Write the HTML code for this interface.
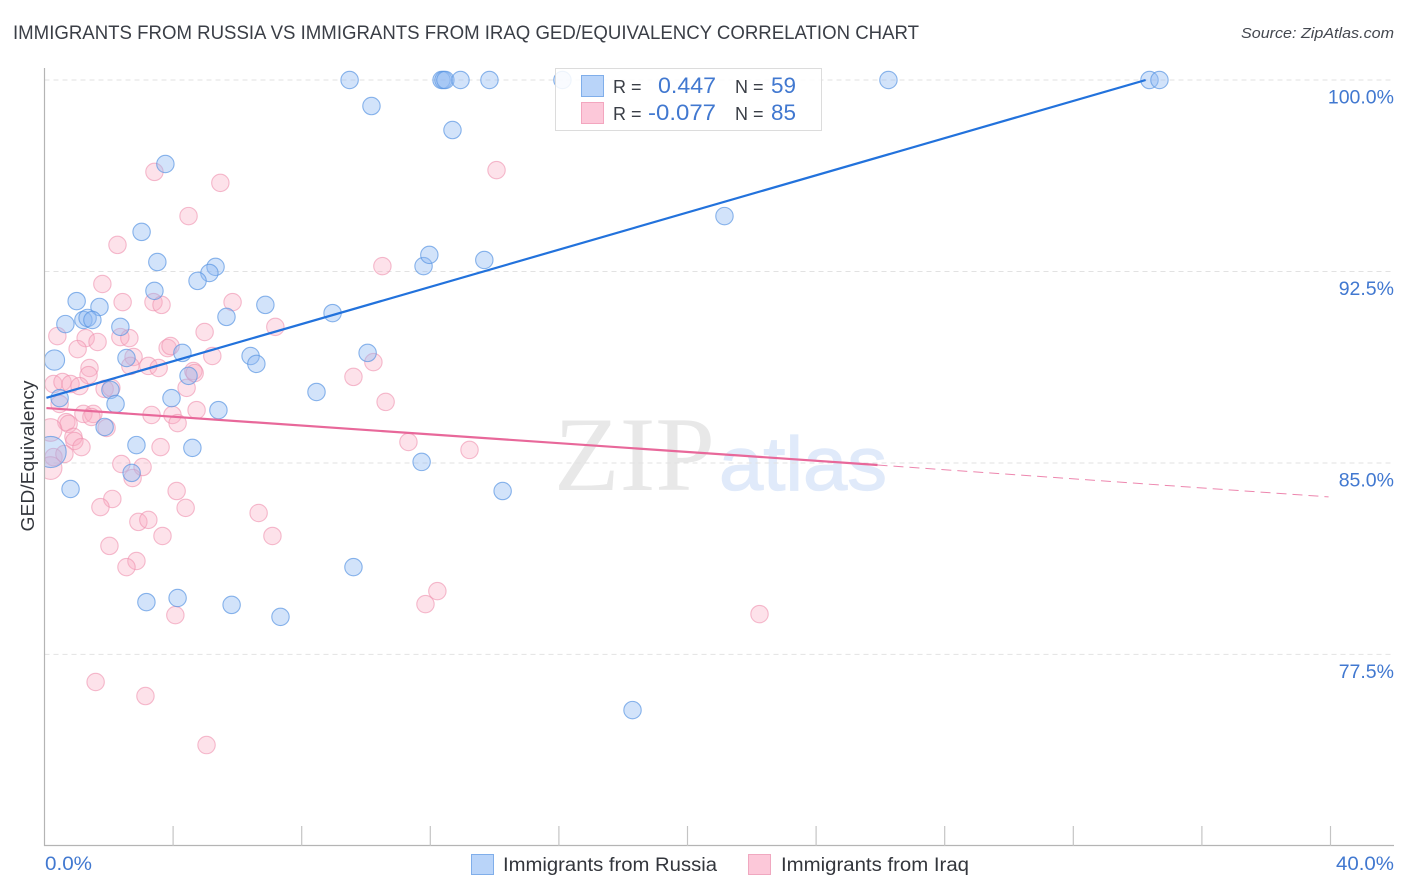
<!DOCTYPE html>
<html lang="en">
<head>
<meta charset="utf-8">
<title>Immigrants from Russia vs Immigrants from Iraq GED/Equivalency Correlation Chart</title>
<style>
html,body{margin:0;padding:0;background:#fff;}
svg{display:block;font-family:"Liberation Sans",sans-serif;}
</style>
</head>
<body>
<svg id="chart" width="1406" height="892" viewBox="0 0 1406 892" xmlns="http://www.w3.org/2000/svg">
  <defs>
    <clipPath id="plot-clip"><rect x="44.5" y="60" width="1350" height="786"/></clipPath>
  </defs>
  <text x="13" y="39" font-size="19" fill="#3a3e46" textLength="906" lengthAdjust="spacingAndGlyphs">IMMIGRANTS FROM RUSSIA VS IMMIGRANTS FROM IRAQ GED/EQUIVALENCY CORRELATION CHART</text>
  <text x="1394" y="38" font-size="15" font-style="italic" fill="#444850" text-anchor="end" textLength="153" lengthAdjust="spacingAndGlyphs">Source: ZipAtlas.com</text>

  <g>
    <text x="554" y="490" font-family="'Liberation Serif',serif" font-size="106" fill="#e8e8e8" textLength="161" lengthAdjust="spacingAndGlyphs">ZIP</text>
    <text x="719" y="490" font-family="'Liberation Sans',sans-serif" font-size="76" fill="#e0eafa" stroke="#e0eafa" stroke-width="1.2" textLength="168" lengthAdjust="spacingAndGlyphs">atlas</text>
  </g>

  <g id="grid"></g>
  <g id="points" clip-path="url(#plot-clip)"></g>
  <g id="trends"></g>
  <g id="axes"></g>

  <text transform="translate(34,456) rotate(-90)" font-size="18" fill="#33363c" text-anchor="middle" textLength="151" lengthAdjust="spacingAndGlyphs">GED/Equivalency</text>

  <g>
    <rect x="555.5" y="68.5" width="266" height="62" fill="#fff" fill-opacity="0.86" stroke="#dcdcdc"/>
    <rect x="581.5" y="75.5" width="22" height="21" fill="#b9d4f9" stroke="#80aeea"/>
    <rect x="581.5" y="102.5" width="22" height="21" fill="#fcc8d9" stroke="#f3a6bf"/>
    <text x="613" y="93" font-size="18" fill="#3a3e46">R =</text>
    <text x="716" y="93" font-size="22" fill="#4178d0" text-anchor="end" textLength="58" lengthAdjust="spacingAndGlyphs">0.447</text>
    <text x="735" y="93" font-size="18" fill="#3a3e46">N =</text>
    <text x="796" y="93" font-size="22" fill="#4178d0" text-anchor="end" textLength="25" lengthAdjust="spacingAndGlyphs">59</text>
    <text x="613" y="120" font-size="18" fill="#3a3e46">R =</text>
    <text x="716" y="120" font-size="22" fill="#4178d0" text-anchor="end" textLength="68" lengthAdjust="spacingAndGlyphs">-0.077</text>
    <text x="735" y="120" font-size="18" fill="#3a3e46">N =</text>
    <text x="796" y="120" font-size="22" fill="#4178d0" text-anchor="end" textLength="25" lengthAdjust="spacingAndGlyphs">85</text>
  </g>

  <g>
    <g>
      <rect x="471.5" y="854.5" width="22" height="20" fill="#b9d4f9" stroke="#80aeea"/>
      <text x="503" y="871" font-size="19" fill="#33363c" textLength="214" lengthAdjust="spacingAndGlyphs">Immigrants from Russia</text>
    </g>
    <g>
      <rect x="748.5" y="854.5" width="22" height="20" fill="#fcc8d9" stroke="#f0a8c0"/>
      <text x="781" y="871" font-size="19" fill="#33363c" textLength="188" lengthAdjust="spacingAndGlyphs">Immigrants from Iraq</text>
    </g>
  </g>
</svg>
<script>
// x values: share of immigrants (%), y values: GED/Equivalency (%)
const russiaX = [9.49,10.17,12.35,12.41,12.47,12.94,13.84,16.11,26.25,34.37,34.68,12.69,3.76,21.15,3.02,3.51,5.32,5.13,4.76,11.79,11.97,13.68,1.00,1.71,3.42,6.87,5.66,8.96,0.65,1.21,1.34,1.49,2.36,2.55,4.29,6.41,6.59,10.05,4.48,8.46,2.05,0.47,2.21,3.95,5.41,1.87,2.86,4.60,2.71,11.73,0.81,14.25,9.61,3.17,4.14,5.82,7.34,18.29,0.31,0.19];
const russiaY = [100,98.98,100,100,100,100,100,100,100,100,100,98.04,96.71,94.67,94.05,92.87,92.68,92.44,92.13,92.71,93.15,92.95,91.34,91.11,91.74,91.19,90.72,90.87,90.44,90.60,90.68,90.60,90.33,89.11,89.31,89.19,88.88,89.31,88.41,87.78,87.86,87.54,87.31,87.54,87.07,86.41,85.70,85.59,84.61,85.04,83.98,83.90,80.92,79.55,79.71,79.44,78.97,75.32,89.03,85.43];
const russiaPop = [1,1,1,1,1,1,1,1,1,1,1,1,1,1,1,1,1,1,1,1,1,1,1,1,1,1,1,1,1,1,1,1,1,1,1,1,1,1,1,1,1,1,1,1,1,1,1,1,1,1,1,1,1,1,1,1,1,1,1.35,3.2];

const iraqX = [14.06,3.42,5.47,4.48,2.27,10.51,1.80,2.43,3.39,3.64,5.85,7.18,4.98,0.40,2.36,2.64,1.28,1.65,1.03,3.83,3.92,5.22,2.77,2.67,3.23,3.55,1.40,10.23,9.61,1.37,4.63,4.67,4.42,0.28,0.56,0.81,1.09,1.87,2.08,10.61,0.47,1.21,1.52,1.46,3.33,3.98,4.73,4.14,1.93,0.68,0.75,0.90,0.93,1.15,3.61,11.32,13.22,0.28,0.62,2.39,3.05,2.74,4.11,2.11,1.74,4.39,6.66,2.92,3.23,3.67,7.09,2.02,2.86,2.55,12.22,11.85,22.24,4.07,1.59,3.14,5.04,0.19,0.19];
const iraqY = [96.47,96.40,95.97,94.67,93.54,92.71,92.01,91.30,91.30,91.19,91.30,90.33,90.13,89.97,89.93,89.89,89.89,89.74,89.46,89.50,89.58,89.19,89.15,88.80,88.80,88.72,88.72,88.95,88.37,88.44,88.60,88.52,87.94,88.09,88.17,88.09,88.01,87.90,87.94,87.39,87.31,86.92,86.92,86.80,86.88,86.88,87.07,86.56,86.37,86.60,86.53,86.02,85.86,85.62,85.62,85.82,85.51,85.23,85.35,84.96,84.84,84.41,83.90,83.59,83.27,83.24,83.04,82.69,82.77,82.14,82.14,81.75,81.16,80.92,79.98,79.47,79.08,79.04,76.42,75.87,73.95,86.29,84.80];
const iraqPop = [1,1,1,1,1,1,1,1,1,1,1,1,1,1,1,1,1,1,1,1,1,1,1,1,1,1,1,1,1,1,1,1,1,1,1,1,1,1,1,1,1,1,1,1,1,1,1,1,1,1,1,1,1,1,1,1,1,1,1,1,1,1,1,1,1,1,1,1,1,1,1,1,1,1,1,1,1,1,1,1,1,1.7,1.7];

const russiaTrendX = [0.06,34.25];
const russiaTrendY = [87.55,100];
const iraqTrendX = [0.06,25.91];
const iraqTrendY = [87.15,84.92];
const iraqTrendDashX = [25.91,39.94];
const iraqTrendDashY = [84.92,83.67];

const yTicks = [100,92.5,85,77.5];
const yTickLabels = ["100.0%","92.5%","85.0%","77.5%"];
const xTicks = [4,8,12,16,20,24,28,32,36,40];
const xEndLabels = ["0.0%","40.0%"];

const NS = "http://www.w3.org/2000/svg";
const sx = v => 44.5 + (v / 40) * 1286;
const sy = v => 80 + (100 - v) * 25.53;
const baseR = 8.7;

function mk(tag, attrs, parent){
  const el = document.createElementNS(NS, tag);
  for (const k in attrs) el.setAttribute(k, attrs[k]);
  parent.appendChild(el);
  return el;
}

const gridG = document.getElementById("grid");
const axesG = document.getElementById("axes");
const pointsG = document.getElementById("points");
const trendsG = document.getElementById("trends");

yTicks.forEach((t, i) => {
  const line = mk("line", {x1:44.5, x2:1394, y1:sy(t), y2:sy(t), stroke:"#e2e2e2", "stroke-width":1, "stroke-dasharray":"5 4"}, gridG);
  
  
  const label = mk("text", {x:1394, y:sy(t)+23.5, "font-size":19.5, fill:"#4178d0", "text-anchor":"end"}, axesG);
  label.textContent = yTickLabels[i];
  
  
});

const yAxis = mk("line", {x1:44.5, x2:44.5, y1:68, y2:846, stroke:"#b4b4b4", "stroke-width":1.2}, axesG);


const xAxis = mk("line", {x1:44, x2:1394, y1:845.5, y2:845.5, stroke:"#b4b4b4", "stroke-width":1.2}, axesG);



xTicks.forEach(t => {
  const tick = mk("line", {x1:sx(t), x2:sx(t), y1:826, y2:846, stroke:"#c4c4c4", "stroke-width":1.2}, axesG);
  
  
});

const x0Label = mk("text", {x:45, y:870, "font-size":19.5, fill:"#4178d0", textLength:47, lengthAdjust:"spacingAndGlyphs"}, axesG);
x0Label.textContent = xEndLabels[0];


const x1Label = mk("text", {x:1394, y:870, "font-size":19.5, fill:"#4178d0", "text-anchor":"end", textLength:58, lengthAdjust:"spacingAndGlyphs"}, axesG);
x1Label.textContent = xEndLabels[1];



iraqX.forEach((x, i) => {
  const dot = mk("circle", {cx:sx(x), cy:sy(iraqY[i]), r:baseR*Math.sqrt(iraqPop[i]), fill:"#f9a9c2", "fill-opacity":0.34, stroke:"#ee8fad", "stroke-opacity":0.6, "stroke-width":1.1}, pointsG);
  
  
});

russiaX.forEach((x, i) => {
  const dot = mk("circle", {cx:sx(x), cy:sy(russiaY[i]), r:baseR*Math.sqrt(russiaPop[i]), fill:"#8fbaf2", "fill-opacity":0.4, stroke:"#5a96e2", "stroke-opacity":0.7, "stroke-width":1.1}, pointsG);
  
  
});

const russiaLine = mk("line", {x1:sx(russiaTrendX[0]), y1:sy(russiaTrendY[0]), x2:sx(russiaTrendX[1]), y2:sy(russiaTrendY[1]), stroke:"#2272dc", "stroke-width":2.2}, trendsG);


const iraqLine = mk("line", {x1:sx(iraqTrendX[0]), y1:sy(iraqTrendY[0]), x2:sx(iraqTrendX[1]), y2:sy(iraqTrendY[1]), stroke:"#e8689a", "stroke-width":2.2}, trendsG);


const iraqDash = mk("line", {x1:sx(iraqTrendDashX[0]), y1:sy(iraqTrendDashY[0]), x2:sx(iraqTrendDashX[1]), y2:sy(iraqTrendDashY[1]), stroke:"#e8689a", "stroke-width":1, "stroke-dasharray":"10 6", "stroke-opacity":0.8}, trendsG);


</script>
</body>
</html>
